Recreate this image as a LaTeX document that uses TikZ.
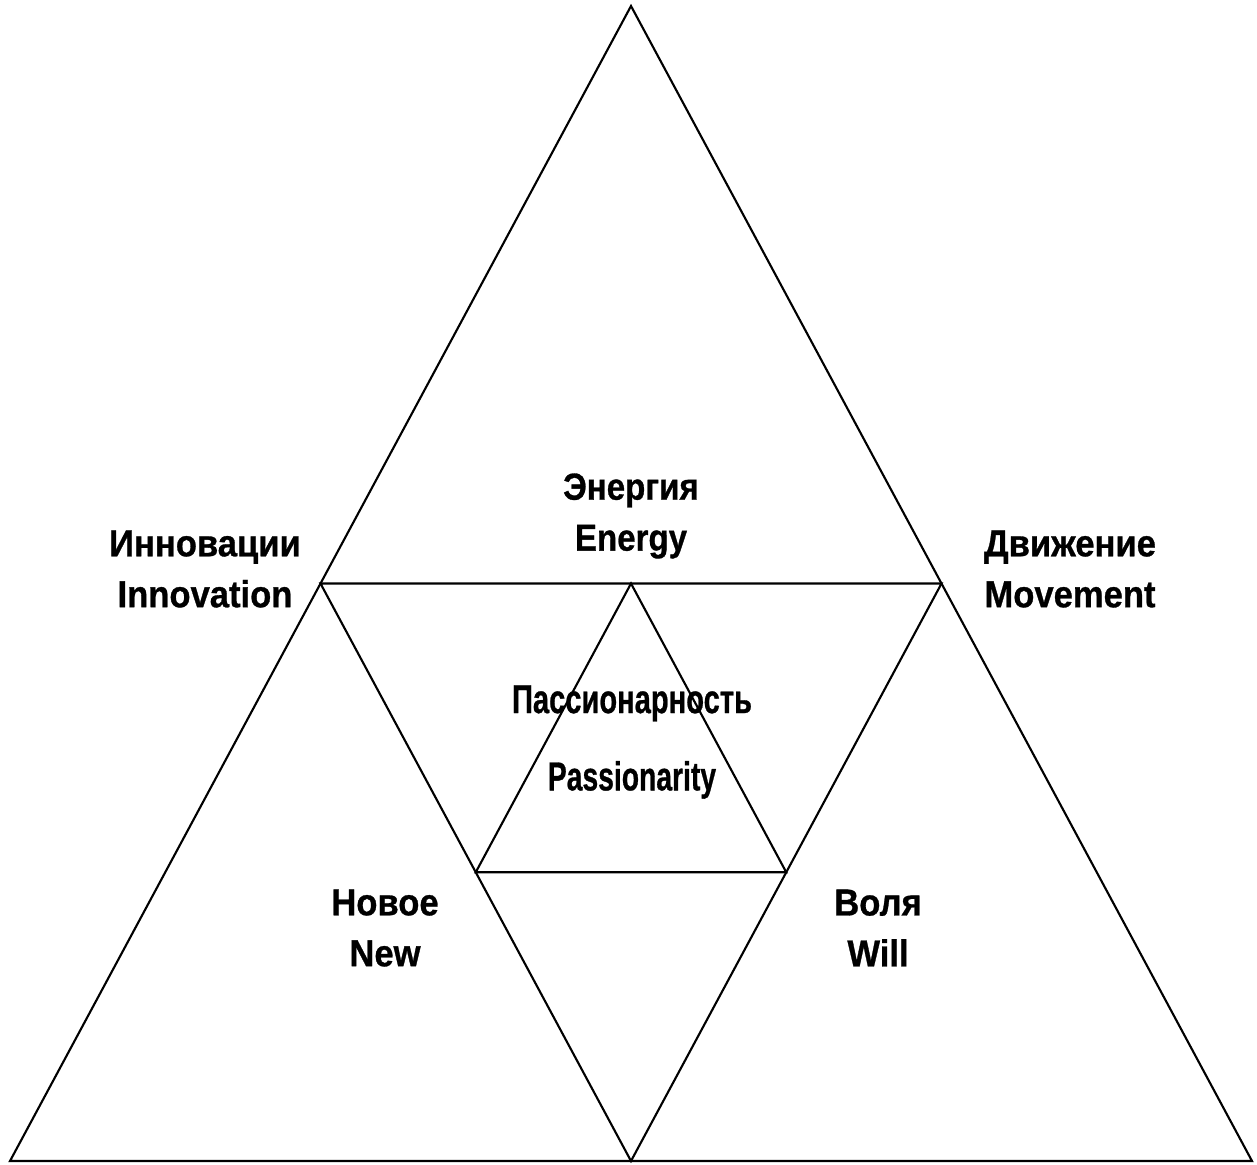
\documentclass[tikz,border=0pt]{standalone}
\usepackage{fontspec}
\setmainfont[BoldFeatures={FakeBold=0.8}]{Liberation Sans}
\usepackage{tikz}
\usetikzlibrary{calc}

\newcommand{\squeeze}[2][0.92]{\scalebox{#1}[1]{#2}}

\begin{document}
\begin{tikzpicture}[
  x=0.02cm, y=-0.02cm,
  edge/.style={line width=1.2pt, line join=miter},
  word/.style={font=\bfseries\fontsize{21.4}{29}\selectfont, align=center, inner sep=0pt},
  core/.style={font=\bfseries\fontsize{23}{44}\selectfont, align=center, inner sep=0pt}
]
  \useasboundingbox (0,0) rectangle (1257,1164);

  % Outer triangle
  \coordinate (top) at (631,6);
  \coordinate (bl) at (10,1161);
  \coordinate (br) at (1252,1161);

  % Middle (inverted) triangle
  \coordinate (ml) at ($(top)!0.5!(bl)$);
  \coordinate (mr) at ($(top)!0.5!(br)$);
  \coordinate (mb) at ($(bl)!0.5!(br)$);

  % Inner triangle
  \coordinate (c1) at ($(ml)!0.5!(mr)$);
  \coordinate (c2) at ($(ml)!0.5!(mb)$);
  \coordinate (c3) at ($(mr)!0.5!(mb)$);

  \draw[edge] (top) -- (bl) -- (br) -- cycle;
  \draw[edge] (ml) -- (mr) -- (mb) -- cycle;
  \draw[edge] (c1) -- (c2) -- (c3) -- cycle;

  % Labels
  \node[word] (energy) at (631,516) {\squeeze[0.88]{Энергия}\\\squeeze[0.88]{Energy}};
  \node[word] (innov) at (205,569) {\squeeze{Инновации}\\\squeeze{Innovation}};
  \node[word] (move) at (1070,569) {\squeeze{Движение}\\\squeeze{Movement}};
  \node[word] (new) at (385,928) {\squeeze{Новое}\\\squeeze{New}};
  \node[word] (will) at (878,928) {\squeeze{Воля}\\\squeeze{Will}};
  \node[core] (pass) at (632,742) {\squeeze[0.72]{Пассионарность}\\\squeeze[0.70]{Passionarity}};
\end{tikzpicture}
\end{document}
